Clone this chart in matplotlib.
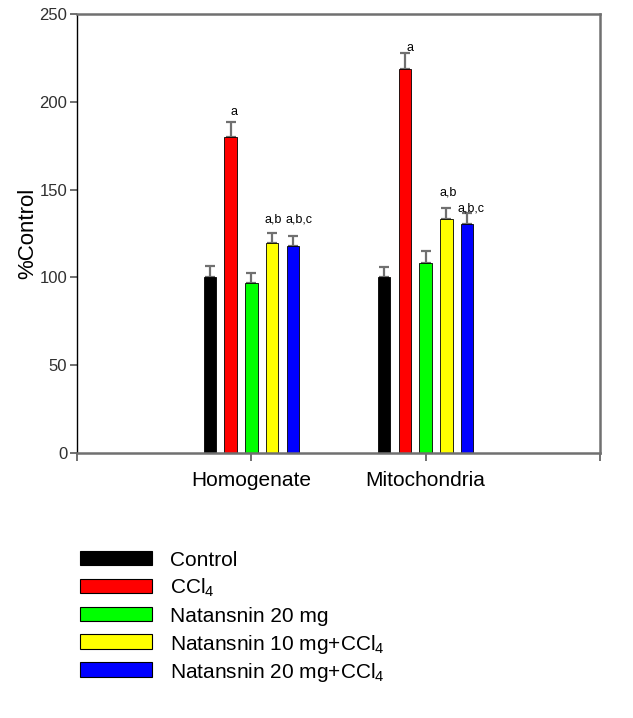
import numpy as np
import matplotlib.pyplot as plt
from matplotlib.patches import Rectangle

plt.rcParams['font.family'] = ['Liberation Sans', 'DejaVu Sans']
plt.rcParams['mathtext.fontset'] = 'custom'
plt.rcParams['mathtext.rm'] = 'Liberation Sans'
plt.rcParams['mathtext.it'] = 'Liberation Sans'

# data
groups = ["Homogenate", "Mitochondria"]
series = ["Control", "CCl$_4$", "Natansnin 20 mg",
          "Natansnin 10 mg+CCl$_4$", "Natansnin 20 mg+CCl$_4$"]
colors = ["#000000", "#ff0000", "#00ff00", "#ffff00", "#0000ff"]
means = [[100, 100], [180, 218.5], [96.6, 108], [119.4, 133], [117.7, 130.4]]
errs = [[6.5, 5.7], [8.5, 9.1], [5.7, 6.9], [6.1, 6.3], [5.9, 6.1]]
marks = [["", ""], ["a", "a"], ["", ""], ["a,b", "a,b"], ["a,b,c", "a,b,c"]]

# where the significance letters sit relative to the error cap
mark_dx = [[0, 0], [3.5, 5.5], [0, 0], [1.5, 2], [6.4, 4]]       # pixels
mark_dy = [[0, 0], [4, 1.3], [0, 0], [5.9, 7.6], [7.8, 1.3]]     # data units

W, H = 633, 718
fig = plt.figure(figsize=(W/100, H/100), dpi=100)
ax = fig.add_axes([77/W, 1-453/H, 523/W, 439/H])

centers = np.array([1, 2])
width = 0.071
step = 0.119
gray = "#707070"
for i in range(len(series)):
    x = centers + (i - 2) * step
    ax.bar(x, means[i], width, color=colors[i], edgecolor="black", linewidth=0.6, zorder=2)
    ax.errorbar(x, means[i], yerr=[[0, 0], errs[i]], fmt="none", ecolor=gray,
                elinewidth=1.6, capsize=3.3, capthick=1.6, zorder=1)
    for j in range(2):
        if marks[i][j]:
            ax.text(x[j] + mark_dx[i][j]/175, means[i][j] + errs[i][j] + mark_dy[i][j],
                    marks[i][j], ha="center", va="baseline", fontsize=9)

ax.set_xlim(0, 3)
ax.set_ylim(0, 250)
ax.set_xticks([0, 1, 2, 3])
ax.set_xticklabels(["", groups[0], groups[1], ""], fontsize=15)
ax.set_yticks(np.arange(0, 251, 50))
ax.tick_params(axis="y", labelsize=12, labelcolor="#303030", color=gray, length=5, width=1.4, pad=2)
ax.tick_params(axis="x", color=gray, length=6, width=1.4, pad=7)
ax.set_ylabel("%Control", fontsize=16, labelpad=1)
for s in ["top", "right", "bottom"]:
    ax.spines[s].set_color(gray)
    ax.spines[s].set_linewidth(1.8)
ax.spines["left"].set_color("black")
ax.spines["left"].set_linewidth(1)

# legend block under the axes
for i in range(len(series)):
    top = 550.7 + 27.9 * i
    fig.patches.append(Rectangle((80/W, 1-(top+14.3)/H), 71.7/W, 14.3/H,
                                 transform=fig.transFigure, facecolor=colors[i],
                                 edgecolor="black", linewidth=0.8))
    fig.text(170/W, 1-(566+27.9*i)/H, series[i], fontsize=15, va="baseline", ha="left")

fig.savefig("out.png", dpi=100)
